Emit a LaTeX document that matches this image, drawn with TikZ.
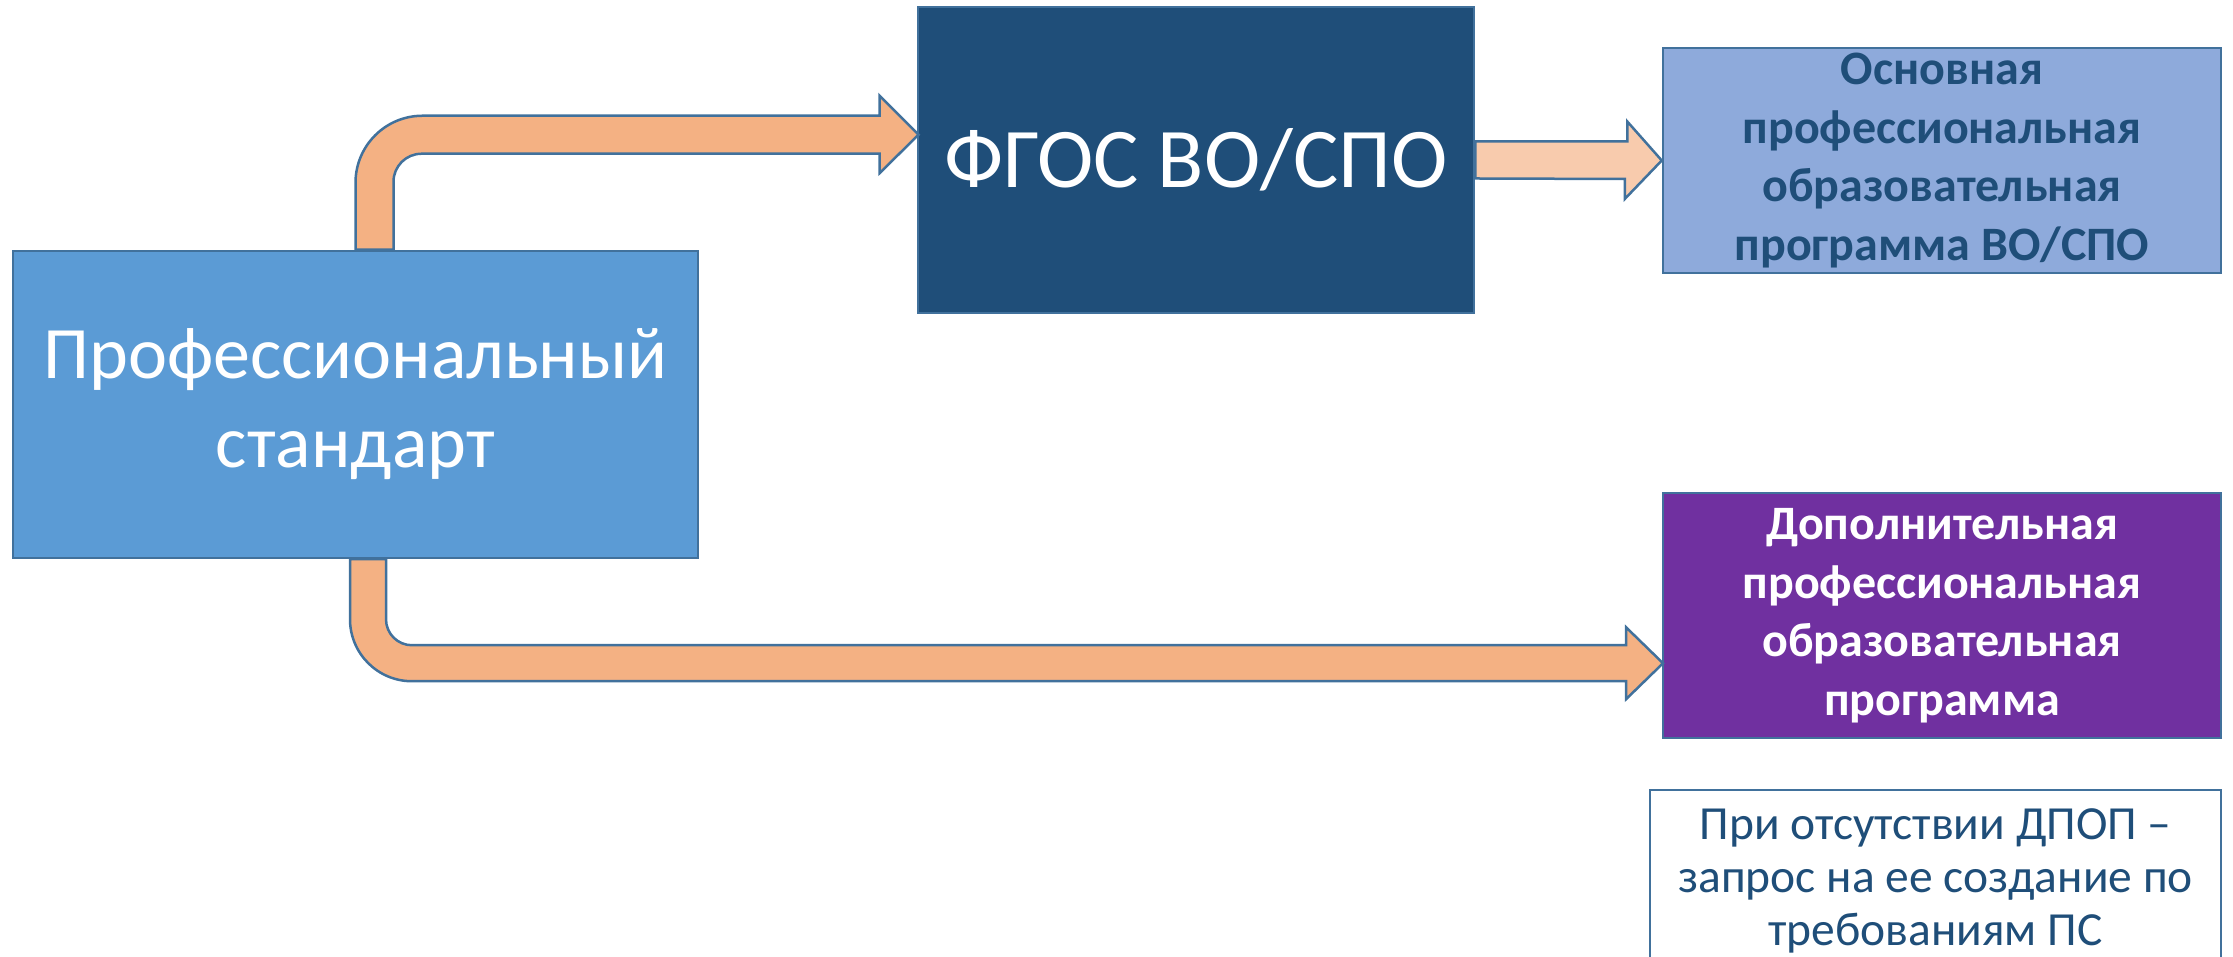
\documentclass[tikz,border=0pt]{standalone}
\usepackage{fontspec}
\setmainfont{Carlito}
\usepackage{tikz}
\usetikzlibrary{positioning}

\definecolor{edgeblue}{HTML}{41719C}
\definecolor{psblue}{HTML}{5B9BD5}
\definecolor{fgosblue}{HTML}{1F4E79}
\definecolor{opopblue}{HTML}{8EAADB}
\definecolor{dpopviolet}{HTML}{7030A0}
\definecolor{peach}{HTML}{F4B183}
\definecolor{lightpeach}{HTML}{F8CBAD}

\tikzset{
  box/.style={draw=edgeblue, line width=2.5pt, inner sep=0pt, align=center},
  bigarrow/.style={draw=edgeblue, line width=2.5pt, fill=peach, line join=miter},
}

\begin{document}
\begin{tikzpicture}[x=1pt, y=1pt]
            \useasboundingbox (0,0) rectangle (2233,957);
            \node[box, fill=psblue, text=white, minimum width=685, minimum height=307,
                  font=\fontsize{74}{89}\selectfont] (ps) at (355.5, 552.5) {Профессиональный\\стандарт};
            \node[box, fill=fgosblue, text=white, minimum width=556, minimum height=306,
                  font=\fontsize{85}{100}\selectfont] (fgos) at (1196, 797) {ФГОС ВО/СПО};
            \node[box, fill=opopblue, text=fgosblue, minimum width=558, minimum height=225,
                  font=\fontsize{48}{58.5}\selectfont\bfseries] (opop) at (1942, 796.5) {Основная\\профессиональная\\образовательная\\программа ВО/СПО};
            \node[box, fill=dpopviolet, text=white, minimum width=558, minimum height=245,
                  font=\fontsize{48}{58.5}\selectfont\bfseries] (dpop) at (1942, 341.5) {Дополнительная\\профессиональная\\образовательная\\программа};
            \node[box, line width=1.8pt, fill=white, text=fgosblue, minimum width=571, minimum height=182,
                  font=\fontsize{47.5}{53}\selectfont] (note) at (1935.5, 76) {При отсутствии ДПОП –\\запрос на ее создание по\\требованиям ПС};

            \draw[bigarrow] (ps.north) -- ++(0,67) arc[start angle=180, end angle=90, radius=67]
                -- ++(457,0) -- ++(0,20) -- ++(39,-39) -- ++(-39,-38.5) -- ++(0,19.5)
                -- ++(-458,0) arc[start angle=90, end angle=180, radius=28] -- ++(0,-68) -- cycle;
            \draw[bigarrow, fill=lightpeach] ([yshift=18.5]fgos.east) -- ++(152,0) -- ++(0,20)
                -- (opop.west) -- ++(-37,-38.5) -- ++(0,20) -- ([yshift=-18.5]fgos.east) -- cycle;
            \draw[bigarrow] ([xshift=-5.5]ps.south) -- ++(0,-60) arc[start angle=180, end angle=270, radius=62]
                -- ++(1214,0) -- ++(0,-18) -- ++(37,36) -- ++(-37,36) -- ++(0,-18)
                -- ++(-1214,0) arc[start angle=270, end angle=180, radius=26] -- ++(0,60) -- cycle;
        \end{tikzpicture}
\end{document}
